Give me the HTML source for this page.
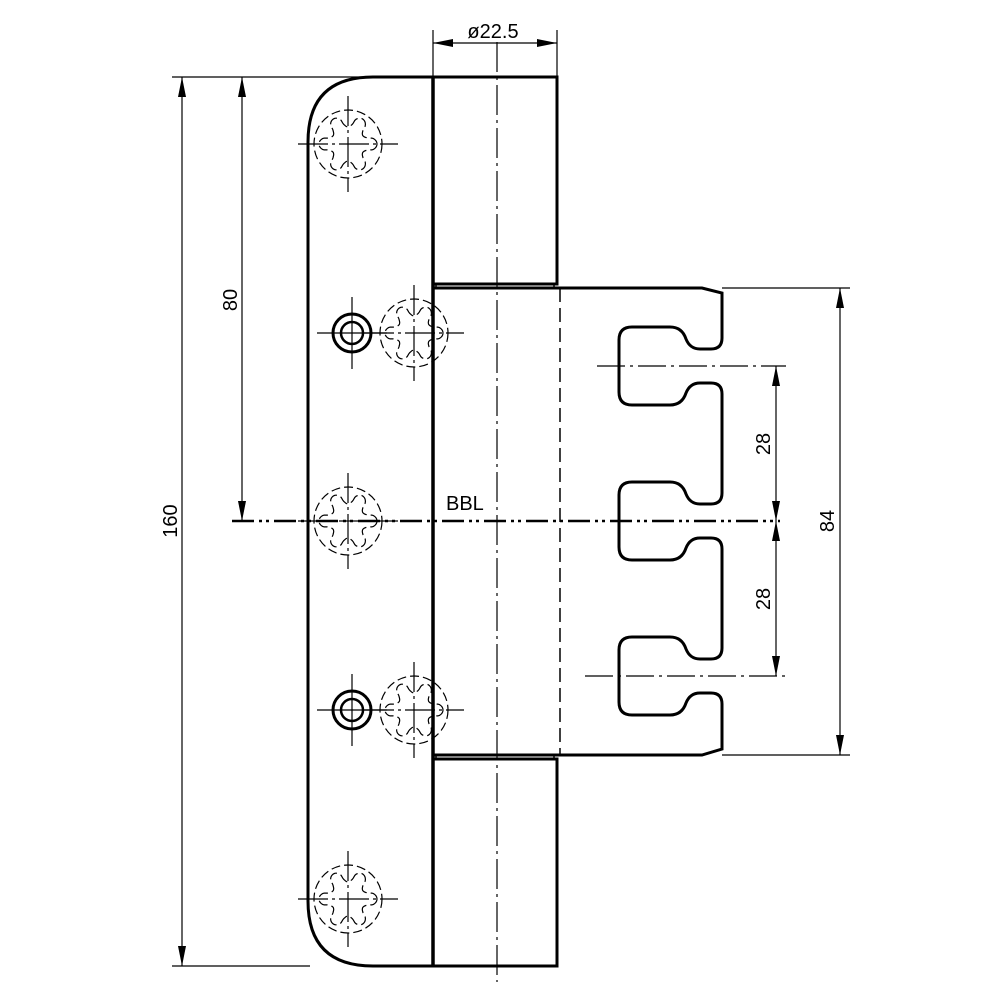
<!DOCTYPE html>
<html><head><meta charset="utf-8"><style>
html,body{margin:0;padding:0;background:#fff}
svg{display:block}
text{font-family:"Liberation Sans",sans-serif;font-size:20px;fill:#000}
</style></head><body>
<svg id="s" width="1000" height="1000" viewBox="0 0 1000 1000" xmlns="http://www.w3.org/2000/svg">
<defs>
<marker id="a" viewBox="0 0 20 8" refX="20" refY="4" markerWidth="20" markerHeight="8" markerUnits="userSpaceOnUse" orient="auto-start-reverse"><path d="M0,0 L20,4 L0,8 z" fill="#000"/></marker>
</defs>
<g fill="none" stroke="#000">
<path d="M433,77 L373,77 Q308,77 308,142 L308,901 Q308,966 373,966 L433,966" stroke-width="3"/>
<rect x="433" y="77" width="124" height="207" stroke-width="3"/>
<rect x="433" y="759" width="124" height="207" stroke-width="3"/>
<line x1="433" y1="77" x2="433" y2="966" stroke-width="3.5"/>
<path d="M436,284 L436,288 L554,288 L554,284 M436,759 L436,755 L554,755 L554,759" stroke-width="1.5"/>
<path id="leaf" stroke-width="3"/>
<line x1="560" y1="288" x2="560" y2="755" stroke-width="1.5" stroke-dasharray="14,6"/>
<line x1="497" y1="42" x2="497" y2="982" stroke-width="1.2" stroke-dasharray="30,5,3,5"/>
<line x1="232" y1="521" x2="780" y2="521" stroke-width="2.5" stroke-dasharray="22,5,3,4,3,5"/>
<line x1="597" y1="366" x2="786" y2="366" stroke-width="1.2" stroke-dasharray="28,5,3,5"/>
<line x1="585" y1="676" x2="786" y2="676" stroke-width="1.2" stroke-dasharray="28,5,3,5"/>
<circle cx="352" cy="333" r="19" stroke-width="3"/><circle cx="352" cy="333" r="11" stroke-width="2.5"/>
<circle cx="352" cy="710" r="19" stroke-width="3"/><circle cx="352" cy="710" r="11" stroke-width="2.5"/>
<path d="M352,297 V369 M317,333 H387 M349,333 H355 M352,330 V336 M352,674 V746 M317,710 H387 M349,710 H355 M352,707 V713" stroke-width="1.2"/>
<g id="screws" stroke-width="1.2"></g>
<g stroke-width="1.2">
<line x1="172" y1="77" x2="373" y2="77"/>
<line x1="172" y1="966" x2="310" y2="966"/>
<line x1="182" y1="77" x2="182" y2="966" marker-start="url(#a)" marker-end="url(#a)"/>
<line x1="242" y1="77" x2="242" y2="521" marker-start="url(#a)" marker-end="url(#a)"/>
<line x1="433" y1="30" x2="433" y2="77"/>
<line x1="557" y1="30" x2="557" y2="77"/>
<line x1="433" y1="43" x2="557" y2="43" marker-start="url(#a)" marker-end="url(#a)"/>
<line x1="722" y1="288" x2="850" y2="288"/>
<line x1="722" y1="755" x2="850" y2="755"/>
<line x1="840" y1="288" x2="840" y2="755" marker-start="url(#a)" marker-end="url(#a)"/>
<line x1="776" y1="366" x2="776" y2="521" marker-start="url(#a)" marker-end="url(#a)"/>
<line x1="776" y1="521" x2="776" y2="676" marker-start="url(#a)" marker-end="url(#a)"/>
</g>
</g>
<text x="493" y="38" text-anchor="middle">ø22.5</text>
<text x="446" y="510">BBL</text>
<text transform="translate(177,521) rotate(-90)" text-anchor="middle">160</text>
<text transform="translate(237,300) rotate(-90)" text-anchor="middle">80</text>
<text transform="translate(770,444) rotate(-90)" text-anchor="middle">28</text>
<text transform="translate(770,599) rotate(-90)" text-anchor="middle">28</text>
<text transform="translate(834,521) rotate(-90)" text-anchor="middle">84</text>
<script>
(function(){
 var d="M433,288 L702,288 L722,293";
 [366,521,676].forEach(function(c){
  d+=" L722,"+(c-28)+" Q722,"+(c-17)+" 711,"+(c-17)+" L700,"+(c-17)+" Q690,"+(c-17)+" 686,"+(c-27)+" Q682,"+(c-39)+" 670,"+(c-39)+" L632,"+(c-39)+" Q619,"+(c-39)+" 619,"+(c-26)+" L619,"+(c+26)+" Q619,"+(c+39)+" 632,"+(c+39)+" L670,"+(c+39)+" Q682,"+(c+39)+" 686,"+(c+27)+" Q690,"+(c+17)+" 700,"+(c+17)+" L711,"+(c+17)+" Q722,"+(c+17)+" 722,"+(c+28);
 });
 d+=" L722,749 L702,755 L433,755";
 document.getElementById("leaf").setAttribute("d",d);
 var g=document.getElementById("screws"),ns="http://www.w3.org/2000/svg";
 function el(t,a){var e=document.createElementNS(ns,t);for(var k in a)e.setAttribute(k,a[k]);g.appendChild(e);}
 [[348,144],[414,333],[348,521],[414,710],[348,899]].forEach(function(p){
  var x=p[0],y=p[1];
  el("circle",{cx:x,cy:y,r:34,"stroke-dasharray":"9,4"});
  var s="";
  for(var i=0;i<=180;i++){var t=i/180*2*Math.PI;var c=Math.cos(6*t);var r=23+6*Math.sign(c)*Math.pow(Math.abs(c),0.6);
   s+=(i?"L":"M")+(x+r*Math.cos(t)).toFixed(1)+","+(y+r*Math.sin(t)).toFixed(1);}
  el("path",{d:s,"stroke-dasharray":"10,4"});
  el("path",{d:"M"+(x-50)+","+y+"H"+(x+50)+"M"+x+","+(y-48)+"V"+(y+48),"stroke-dasharray":"30,4,3,4"});
 });
})();
</script>
</svg>
</body></html>
